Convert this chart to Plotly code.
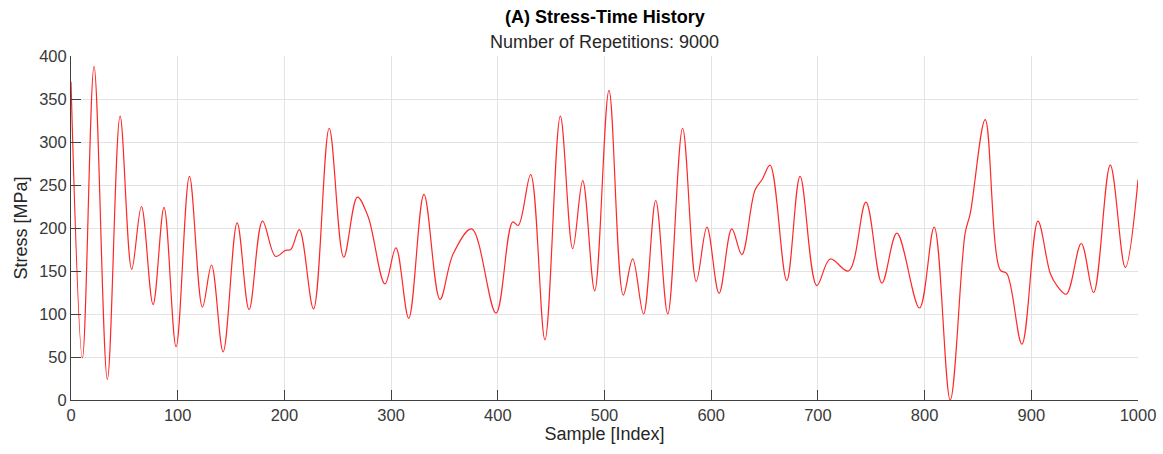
import plotly.graph_objects as go

# Sample index of read-off points (peaks, troughs, shoulders)
sample_index = [0, 10.7, 21.6, 34.1, 46, 56.9, 66, 76.9, 87.2, 98.5,
                111, 123.2, 131.7, 142.6, 155.7, 166.9, 179.5, 191.7, 201, 206,
                214, 227.3, 242, 255.6, 268.4, 278.5, 294.2, 304.5, 316.5, 330.8,
                345.8, 358.2, 375.5, 398.3, 413.9, 419.2, 430.8, 444.2, 458.6, 470.2,
                479.6, 490.8, 504.2, 517.6, 526.4, 536.6, 548, 559.3, 573.2, 586,
                596, 607.4, 619.3, 628.7, 641, 648, 655.2, 670.8, 683.3, 699,
                711.5, 728.7, 745, 760, 774, 795.2, 809, 824, 838, 842.8,
                856.8, 870.9, 877.1, 891.2, 906.2, 917.8, 924, 932.8, 946.8, 958.4,
                974, 988.1, 1000]

# Stress values [MPa]
stress = [370, 49, 388, 24, 330, 152, 225, 111, 224, 62,
          260, 108, 157, 56, 206, 105, 208, 167, 174, 175,
          198, 106, 316, 166, 236, 213, 135, 177, 95, 239,
          117, 170, 199, 101, 207, 203, 262, 70, 330, 176,
          255, 127, 360, 122, 164, 100, 232, 100, 316, 138,
          201, 124, 199, 169, 244, 257, 273, 139, 260, 133,
          164, 150, 230, 136, 194, 107, 201, 0, 194, 217,
          326, 151, 147, 65, 208, 147, 133, 123, 182, 125,
          273, 154, 256]

x_ticks = [0, 100, 200, 300, 400, 500, 600, 700, 800, 900, 1000]
y_ticks = [0, 50, 100, 150, 200, 250, 300, 350, 400]

title_text = "(A) Stress-Time History"
subtitle_text = "Number of Repetitions: 9000"
x_label = "Sample [Index]"
y_label = "Stress [MPa]"

FONT = "Liberation Sans, Arial, Helvetica, sans-serif"
TXT = "#262626"

fig = go.Figure()
fig.add_trace(go.Scatter(
    x=sample_index, y=stress, mode="lines",
    line=dict(color="rgb(255,40,40)", width=1.2, shape="spline", smoothing=1.0),
    hoverinfo="x+y", showlegend=False,
))

axis_common = dict(
    showgrid=True, gridcolor="#e3e3e3", gridwidth=1,
    showline=True, linecolor="#404040", linewidth=1,
    ticks="inside", ticklen=10, tickcolor="#404040", tickwidth=1,
    zeroline=False, mirror=False, automargin=False,
    tickfont=dict(family=FONT, size=16.5, color="#3a3a3a"),
)

MT, MB, ML, MR = 56, 54, 71, 25

fig.update_layout(
    width=1163, height=454,
    margin=dict(l=ML, r=MR, t=MT, b=MB),
    paper_bgcolor="white", plot_bgcolor="white",
    font=dict(family=FONT, color=TXT),
    xaxis=dict(range=[0, 1000], tickvals=x_ticks, **axis_common,
               title=dict(text=x_label, font=dict(family=FONT, size=18, color=TXT), standoff=4)),
    yaxis=dict(range=[0, 400], tickvals=y_ticks, **axis_common,
               title=dict(text=y_label, font=dict(family=FONT, size=18, color=TXT), standoff=6)),
)

plot_h = 454 - MT - MB
fig.add_annotation(text="<b>" + title_text + "</b>", x=0.5, xref="paper",
                   y=1 + (MT - 17) / plot_h, yref="paper", yanchor="middle",
                   showarrow=False, font=dict(family=FONT, size=18, color="#000000"))
fig.add_annotation(text=subtitle_text, x=0.5, xref="paper",
                   y=1 + (MT - 42) / plot_h, yref="paper", yanchor="middle",
                   showarrow=False, font=dict(family=FONT, size=18, color=TXT))

fig.write_html("out.html")
